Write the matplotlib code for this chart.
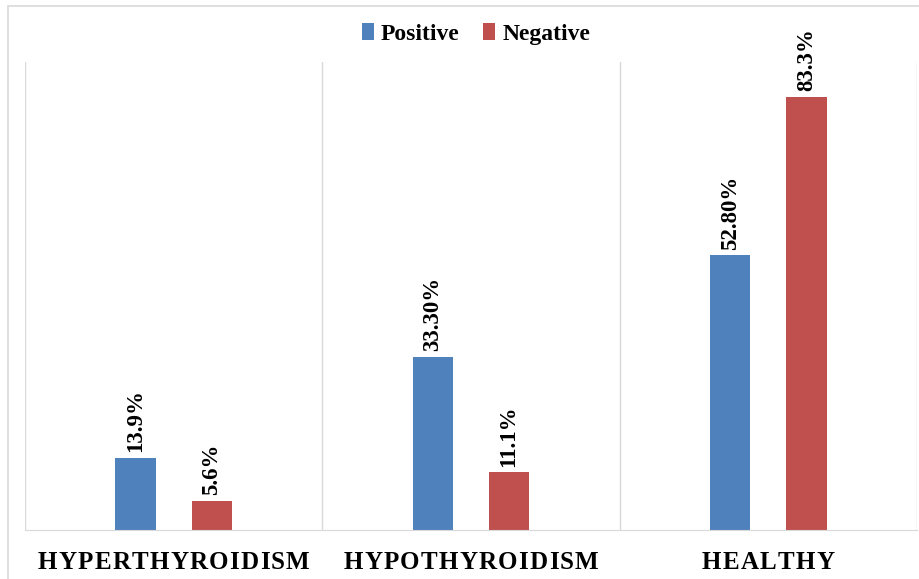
import matplotlib
matplotlib.use("Agg")
import matplotlib.pyplot as plt
import numpy as np
from matplotlib.patches import Rectangle
from matplotlib.font_manager import FontProperties
from matplotlib.textpath import TextToPath
import matplotlib.transforms as mtransforms

categories = ["HYPERTHYROIDISM", "HYPOTHYROIDISM", "HEALTHY"]
positive = [13.9, 33.3, 52.8]
negative = [5.6, 11.1, 83.3]
positive_labels = ["13.9%", "33.30%", "52.80%"]
negative_labels = ["5.6%", "11.1%", "83.3%"]

blue = "#4F81BD"
red = "#C0504D"
grid_col = "#D9D9D9"

plt.rcParams["font.family"] = ["Liberation Serif", "DejaVu Serif"]
plt.rcParams["font.weight"] = "bold"

fig = plt.figure(figsize=(9.19, 5.79), dpi=100)
ax = fig.add_axes([25 / 919, 49 / 579, 892 / 919, 468 / 579])

# light frame around the whole chart
fig.patches.append(Rectangle((8 / 919, -0.01), 1.0, 1 - 6 / 579 + 0.01,
                             transform=fig.transFigure, fill=False,
                             edgecolor=grid_col, linewidth=1.2))

x = np.arange(len(categories))
w = 0.136
off = 0.128
b1 = ax.bar(x - off, positive, w, color=blue, label="Positive")
b2 = ax.bar(x + off, negative, w, color=red, label="Negative")

for bars, labels in ((b1, positive_labels), (b2, negative_labels)):
    for rect, lab in zip(bars, labels):
        ax.annotate(lab, (rect.get_x() + rect.get_width() / 2, rect.get_height()),
                    xytext=(0, 4), textcoords="offset points",
                    rotation=90, ha="center", va="bottom",
                    fontsize=16.5, fontweight="bold")

ax.set_xlim(-0.5, 2.5)
ax.set_ylim(0, 90)
for xv in (-0.5, 0.5, 1.5, 2.5):
    ax.axvline(xv, color=grid_col, linewidth=1, zorder=0)

for s in ("top", "right", "left"):
    ax.spines[s].set_visible(False)
ax.spines["bottom"].set_color(grid_col)
ax.set_yticks([])
ax.set_xticks([])

# category names with letter spacing, placed glyph by glyph
cat_size = 18
spacing = 0.9  # points between letters
prop = FontProperties(family="Liberation Serif", weight="bold", size=cat_size)
t2p = TextToPath()
trans = mtransforms.blended_transform_factory(ax.transData, ax.transAxes)
for xi, name in zip(x, categories):
    widths = [t2p.get_text_width_height_descent(c, prop, ismath=False)[0] for c in name]
    total = sum(widths) + spacing * (len(name) - 1)
    pos = -total / 2
    for c, cw in zip(name, widths):
        ax.annotate(c, (xi, 0), xycoords=trans, xytext=(pos, -28),
                    textcoords="offset points", ha="left", va="baseline",
                    fontproperties=prop, annotation_clip=False)
        pos += cw + spacing

fig.legend(handles=[b1, b2], loc="center", bbox_to_anchor=(476 / 919, 1 - 34 / 579),
           ncol=2, frameon=False, fontsize=17, handlelength=0.5,
           handleheight=0.7, handletextpad=0.3, columnspacing=1.0)

plt.savefig("out.png", dpi=100)
